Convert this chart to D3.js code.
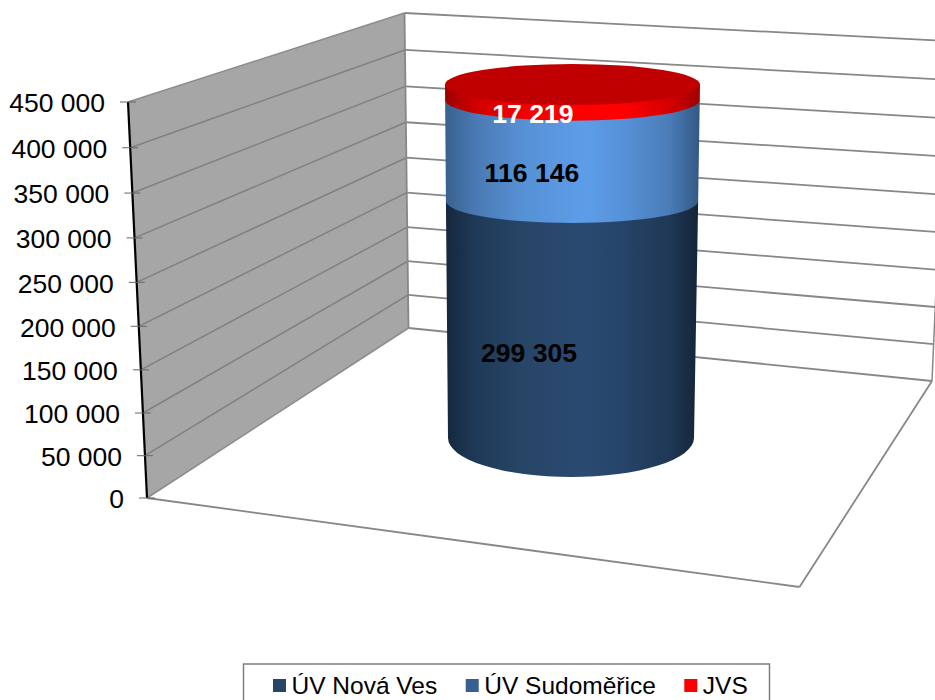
<!DOCTYPE html>
<html><head><meta charset="utf-8">
<script src="https://cdn.jsdelivr.net/npm/d3@7/dist/d3.min.js"></script>
<style>html,body{margin:0;padding:0;background:#fff}svg{display:block}text{font-family:"Liberation Sans",Arial,sans-serif}</style>
</head><body><div id="c"></div>
<script>
const seriesNames = ["ÚV Nová Ves", "ÚV Sudoměřice", "JVS"];
const seriesValues = [299305, 116146, 17219];
const tickValues = [0, 50000, 100000, 150000, 200000, 250000, 300000, 350000, 400000, 450000];
const tickLabels = ["0", "50 000", "100 000", "150 000", "200 000", "250 000", "300 000", "350 000", "400 000", "450 000"];
const labelColors = ["#000", "#000", "#fff"];
const legendColors = ["#264569", "#376092", "#ff0000"];

const W = 935, H = 700, MAX = 450000;
const svg = d3.select("#c").append("svg").attr("width", W).attr("height", H);
const defs = svg.append("defs");

// perspective warp: equal value steps grow towards the top
const warp = b => { const f = v => v / (1 - b * v); return v => f(v) / f(MAX); };
const edge = (x0, y0, x1, y1, b) => {
  const w = warp(b), sx = d3.scaleLinear().domain([0, 1]).range([x0, x1]), sy = d3.scaleLinear().domain([0, 1]).range([y0, y1]);
  return v => [sx(w(v)), sy(w(v))];
};
const front = edge(147, 498, 128, 102, 9.6e-8);
const backL = edge(408.5, 328, 404.5, 13, 1.3e-7);
const backR = edge(932, 381, 947, 41, 6e-8);
const floorFront = [799.5, 587];

const GRID = "#878787";
const line = (a, b, c, w) => svg.append("line").attr("x1", a[0]).attr("y1", a[1]).attr("x2", b[0]).attr("y2", b[1]).attr("stroke", c).attr("stroke-width", w);

// side wall
svg.append("path").attr("d", d3.line()([front(0), front(MAX), backL(MAX), backL(0)]) + "Z").attr("fill", "#a6a6a6");
tickValues.forEach(v => { line(front(v), backL(v), v === 0 || v === MAX ? "#8c8c8c" : "#808080", 1.5); });
// back wall
tickValues.forEach(v => line(backL(v), backR(v), GRID, 1.8));
line(backL(0), backL(MAX), GRID, 1.8);
line(backR(0), backR(MAX), GRID, 1.5);
// floor
line(front(0), floorFront, GRID, 1.8);
line(floorFront, backR(0), GRID, 1.8);

// cylinder geometry driven by cumulative value
const cum = d3.cumsum(seriesValues), total = cum[cum.length - 1];
const bCyl = warp(2.16e-7);
const cyS = d3.scaleLinear().domain([0, bCyl(total)]).range([438, 84.5]);
const cy = v => cyS(bCyl(v));
const ry = d3.scaleLinear().domain([0, seriesValues[0], total]).range([39, 22, 20.5]);
const rx = d3.scaleLinear().domain([0, total]).range([123, 127.5]);
const cx = d3.scaleLinear().domain([0, total]).range([571, 572.5]);
const labelShift = d3.scaleLinear().domain([0, total]).range([-44, -39.5]);

const grads = [
  ["#15273e", "#1f3a58", "#274566", "#2b4a71", "#264469", "#1f3956", "#142539"],
  ["#38618f", "#4a7ab3", "#5690d4", "#5d9de8", "#5691d8", "#4a7cb8", "#345883"],
  ["#9e0000", "#d00000", "#f00000", "#ff0000", "#ff0000", "#d40000", "#9e0000"]
];
const stopAt = [0, .12, .3, .55, .7, .88, 1];
grads.forEach((g, i) => {
  const lg = defs.append("linearGradient").attr("id", "g" + i).attr("x1", 0).attr("x2", 1).attr("y1", 0).attr("y2", 0);
  g.forEach((c, j) => lg.append("stop").attr("offset", stopAt[j]).attr("stop-color", c));
});

seriesValues.forEach((val, i) => {
  const v0 = i ? cum[i - 1] : 0, v1 = cum[i];
  const d = `M${cx(v1) - rx(v1)},${cy(v1)} L${cx(v0) - rx(v0)},${cy(v0)} A${rx(v0)},${ry(v0)} 0 0 0 ${cx(v0) + rx(v0)},${cy(v0)} L${cx(v1) + rx(v1)},${cy(v1)} Z`;
  svg.append("path").attr("d", d).attr("fill", `url(#g${i})`);
});
svg.append("ellipse").attr("cx", cx(total)).attr("cy", cy(total)).attr("rx", rx(total)).attr("ry", ry(total)).attr("fill", "#c00000");

// data labels
seriesValues.forEach((val, i) => {
  const v0 = i ? cum[i - 1] : 0, vm = v0 + val / 2;
  svg.append("text").attr("x", cx(vm) + labelShift(vm)).attr("y", cy(vm) + ry(vm) * 0.75 + 6).attr("dy", ".35em")
    .attr("text-anchor", "middle").attr("font-size", 26.6).attr("font-weight", "bold").attr("fill", labelColors[i])
    .text(d3.format(",")(val).replace(/,/g, " "));
});

// value axis
line(front(0), front(MAX), "#000", 2.2);
tickValues.forEach((v, i) => {
  const p = front(v);
  line([p[0] - 8, p[1]], [p[0] + 8, p[1]], "#666", 1);
  svg.append("text").attr("x", p[0] - 23).attr("y", p[1] + 1).attr("dy", ".35em").attr("text-anchor", "end")
    .attr("font-size", 26.5).attr("fill", "#000").text(tickLabels[i]);
});

// legend
svg.append("rect").attr("x", 243.5).attr("y", 664).attr("width", 526).attr("height", 60).attr("fill", "#fff").attr("stroke", "#7f7f7f").attr("stroke-width", 1.5);
let lx = 273;
seriesNames.forEach((n, i) => {
  svg.append("rect").attr("x", lx).attr("y", 679).attr("width", 13).attr("height", 13).attr("fill", legendColors[i]);
  const t = svg.append("text").attr("x", lx + 18.5).attr("y", 694).attr("font-size", 24.5).attr("fill", "#000").text(n);
  lx += 18.5 + t.node().getComputedTextLength() + 28.5;
});
</script></body></html>
